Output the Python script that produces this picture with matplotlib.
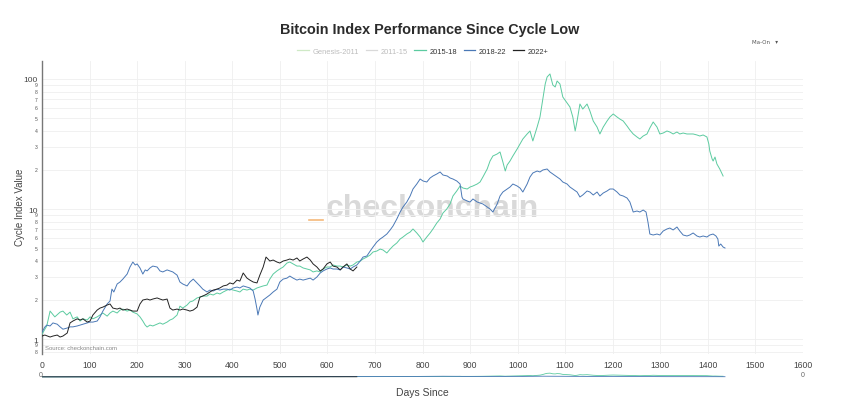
import matplotlib
matplotlib.use("Agg")
import matplotlib.pyplot as plt
from matplotlib.lines import Line2D
from matplotlib.ticker import FixedLocator, NullFormatter

plt.rcParams['font.family'] = ['Liberation Sans', 'DejaVu Sans']

# ---------------- data ----------------
series_names = ["Genesis-2011", "2011-15", "2015-18", "2018-22", "2022+"]
x_ticks = list(range(0, 1700, 100))

g_days = [0, 10, 17, 27, 38, 44, 52, 59, 65, 74, 80, 86, 95, 101, 107, 116, 122, 128, 137, 143,
          149, 158, 164, 170, 179, 185, 191, 200, 206, 212, 217, 221, 227, 233, 242, 248, 254, 263,
          269, 275, 284, 290, 296, 305, 311, 317, 326, 332, 338, 347, 353, 360, 368, 374, 381, 389,
          395, 402, 410, 416, 423, 431, 437, 444, 452, 458, 465, 473, 479, 486, 494, 500, 507, 515,
          521, 528, 536, 542, 549, 557, 564, 570, 578, 585, 591, 599, 606, 612, 620, 627, 633, 641,
          648, 654, 662, 669, 675, 683, 690, 696, 704, 711, 717, 725, 732, 738, 746, 753, 759, 767,
          774, 780, 788, 795, 801, 809, 816, 822, 830, 837, 843, 851, 858, 864, 872, 879, 885, 894,
          900, 906, 915, 921, 927, 936, 942, 948, 957, 963, 969, 974, 978, 984, 990, 999, 1005, 1011,
          1020, 1026, 1032, 1041, 1047, 1053, 1058, 1062, 1068, 1074, 1079, 1083, 1089, 1095, 1104,
          1110, 1116, 1121, 1125, 1131, 1137, 1146, 1152, 1159, 1167, 1173, 1180, 1188, 1194, 1201,
          1209, 1215, 1222, 1230, 1236, 1243, 1251, 1257, 1264, 1272, 1278, 1285, 1293, 1299, 1306,
          1314, 1320, 1327, 1335, 1341, 1348, 1356, 1362, 1369, 1377, 1383, 1390, 1398, 1402, 1404,
          1409, 1411, 1415, 1419, 1425, 1432]
g_vals = [1.09, 1.26, 1.64, 1.48, 1.61, 1.64, 1.53, 1.61, 1.43, 1.48, 1.375, 1.43, 1.40, 1.48, 1.43,
          1.48, 1.53, 1.585, 1.50, 1.585, 1.64, 1.585, 1.67, 1.70, 1.64, 1.67, 1.61, 1.56, 1.48, 1.375,
          1.28, 1.237, 1.28, 1.26, 1.30, 1.33, 1.30, 1.35, 1.40, 1.43, 1.53, 1.79, 1.73, 1.826, 1.93,
          1.96, 2.07, 2.10, 2.14, 2.14, 2.22, 2.18, 2.26, 2.22, 2.30, 2.38, 2.42, 2.38, 2.34, 2.30,
          2.42, 2.38, 2.42, 2.38, 2.47, 2.51, 2.56, 2.60, 2.89, 3.16, 3.34, 3.455, 3.58, 3.84, 3.91,
          3.78, 3.64, 3.64, 3.52, 3.455, 3.40, 3.28, 3.34, 3.28, 3.455, 3.58, 3.58, 3.71, 3.64, 3.64,
          3.58, 3.71, 3.64, 3.71, 3.91, 3.98, 4.125, 4.27, 4.43, 4.67, 4.75, 4.92, 4.84, 4.59, 4.92,
          5.19, 5.48, 5.88, 6.09, 6.42, 6.65, 7.02, 6.54, 6.09, 5.575, 6.09, 6.54, 7.02, 7.80, 8.38,
          9.31, 10.0, 10.93, 12.59, 13.76, 15.03, 14.5, 14.25, 14.76, 15.03, 15.57, 16.13, 17.63,
          20.31, 23.4, 25.57, 26.49, 27.45, 22.99, 19.6, 21.8, 23.4, 25.57, 28.94, 31.62, 34.55,
          37.76, 39.81, 33.36, 42.7, 51.0, 70.0, 91.5, 103.6, 109.3, 89.9, 86.8, 96.5, 91.5, 72.7,
          65.4, 60.9, 51.0, 39.81, 47.5, 64.2, 58.7, 64.2, 56.7, 47.5, 42.7, 37.76, 42.7, 47.5, 51.0,
          53.8, 51.0, 49.2, 47.5, 43.5, 40.5, 37.76, 35.8, 34.55, 36.43, 37.76, 42.0, 46.7, 42.7,
          37.76, 38.4, 39.81, 39.1, 37.76, 39.1, 37.76, 38.4, 37.76, 37.76, 37.76, 37.1, 36.43, 37.1,
          35.8, 31.62, 27.94, 24.2, 23.4, 25.1, 22.19, 20.31, 17.94]

b_days = [0, 6, 10, 17, 23, 32, 38, 44, 53, 59, 65, 74, 80, 86, 95, 101, 107, 116, 122, 128, 137,
          143, 147, 151, 158, 164, 170, 179, 185, 191, 196, 200, 206, 212, 217, 221, 227, 233, 242,
          248, 254, 263, 269, 275, 284, 290, 296, 305, 311, 318, 326, 332, 338, 347, 353, 360, 368,
          374, 381, 389, 395, 402, 410, 416, 423, 431, 437, 444, 448, 452, 454, 458, 465, 473, 479,
          486, 494, 500, 507, 515, 521, 528, 536, 542, 549, 557, 564, 570, 578, 585, 591, 599, 606,
          612, 620, 627, 633, 641, 648, 654, 662, 669, 675, 683, 690, 696, 704, 711, 717, 725, 732,
          738, 746, 753, 759, 767, 774, 780, 788, 795, 801, 809, 816, 822, 830, 837, 843, 852, 858,
          864, 872, 879, 883, 885, 894, 900, 906, 915, 921, 927, 936, 942, 948, 957, 963, 969, 978,
          984, 990, 999, 1005, 1011, 1020, 1026, 1032, 1041, 1047, 1053, 1062, 1068, 1074, 1083,
          1089, 1095, 1104, 1110, 1116, 1125, 1131, 1137, 1146, 1152, 1159, 1167, 1173, 1180, 1188,
          1194, 1201, 1209, 1215, 1222, 1230, 1236, 1241, 1243, 1251, 1257, 1264, 1270, 1274, 1278,
          1285, 1293, 1299, 1306, 1314, 1320, 1327, 1335, 1341, 1348, 1356, 1362, 1369, 1377, 1383,
          1390, 1398, 1404, 1411, 1417, 1421, 1423, 1427, 1432, 1436]
b_vals = [1.13, 1.237, 1.28, 1.26, 1.33, 1.30, 1.24, 1.19, 1.215, 1.24, 1.24, 1.26, 1.28, 1.30, 1.33,
          1.35, 1.35, 1.375, 1.48, 1.64, 1.86, 1.96, 2.42, 2.30, 2.65, 2.745, 2.89, 3.16, 3.58, 3.91,
          3.71, 3.78, 3.52, 3.16, 3.40, 3.34, 3.52, 3.64, 3.58, 3.34, 3.28, 3.40, 3.34, 3.28, 3.10,
          2.745, 2.65, 2.56, 2.745, 2.89, 2.70, 2.56, 2.42, 2.30, 2.38, 2.34, 2.42, 2.38, 2.42, 2.42,
          2.38, 2.47, 2.51, 2.47, 2.56, 2.51, 2.47, 2.34, 2.03, 1.70, 1.53, 1.76, 1.995, 2.10, 2.18,
          2.30, 2.42, 2.745, 2.89, 2.94, 3.05, 2.94, 2.84, 2.89, 2.84, 2.89, 2.94, 2.84, 3.0, 3.22,
          3.34, 3.455, 3.52, 3.455, 3.455, 3.40, 3.58, 3.52, 3.455, 3.58, 3.71, 3.98, 4.27, 4.35,
          4.75, 5.10, 5.575, 5.88, 6.09, 6.42, 6.90, 7.40, 8.38, 9.48, 10.36, 11.32, 12.59, 14.25,
          15.57, 17.01, 16.43, 16.13, 17.32, 17.94, 18.58, 19.26, 18.26, 17.94, 17.32, 17.01, 16.43,
          15.57, 12.37, 11.94, 11.52, 11.32, 11.94, 11.32, 11.12, 10.93, 10.36, 10.0, 9.48, 10.93,
          12.59, 13.51, 14.25, 14.76, 15.57, 15.03, 14.5, 13.51, 15.57, 17.63, 18.92, 19.6, 19.26,
          19.95, 20.31, 19.26, 18.58, 17.63, 17.01, 16.13, 15.57, 14.76, 14.25, 13.51, 12.37, 12.82,
          13.76, 13.51, 12.82, 13.51, 12.59, 13.27, 13.76, 14.25, 14.25, 13.51, 12.82, 12.59, 12.15,
          11.32, 10.0, 9.48, 9.65, 9.48, 9.82, 9.48, 7.94, 6.42, 6.31, 6.42, 6.31, 6.77, 7.02, 7.14,
          6.90, 7.27, 6.77, 6.31, 6.20, 6.31, 6.54, 6.20, 6.09, 6.20, 6.09, 6.31, 6.42, 6.20, 5.88,
          5.19, 5.38, 5.10, 5.01]

k_days = [0, 6, 17, 23, 32, 38, 44, 53, 59, 65, 74, 80, 86, 95, 101, 107, 116, 122, 128, 137, 143,
          149, 158, 164, 170, 179, 185, 191, 200, 206, 212, 221, 227, 233, 242, 248, 254, 263, 269,
          275, 284, 290, 296, 305, 311, 318, 326, 332, 338, 347, 353, 360, 368, 374, 381, 389, 395,
          402, 410, 416, 423, 431, 437, 444, 452, 458, 465, 471, 475, 479, 486, 494, 500, 507, 515,
          521, 528, 536, 542, 549, 557, 564, 570, 578, 585, 591, 599, 606, 612, 620, 627, 633, 641,
          648, 654, 662]
k_vals = [1.054, 1.073, 1.036, 1.054, 1.073, 1.036, 1.054, 1.112, 1.33, 1.375, 1.43, 1.40, 1.43,
          1.35, 1.375, 1.53, 1.67, 1.73, 1.76, 1.826, 1.86, 1.73, 1.70, 1.73, 1.67, 1.70, 1.67, 1.64,
          1.64, 1.86, 1.995, 2.03, 1.995, 2.03, 2.07, 2.03, 1.995, 2.03, 1.73, 1.67, 1.70, 1.67, 1.70,
          1.67, 1.64, 1.67, 1.76, 2.10, 2.14, 2.22, 2.30, 2.38, 2.42, 2.47, 2.56, 2.60, 2.70, 2.65,
          2.84, 2.79, 3.22, 2.94, 2.84, 2.745, 2.70, 3.10, 3.58, 4.27, 4.125, 3.98, 4.05, 3.91, 3.84,
          3.98, 4.05, 4.125, 4.05, 4.20, 3.98, 4.125, 4.27, 4.05, 3.78, 3.58, 3.34, 3.455, 3.78, 3.91,
          3.64, 3.58, 3.40, 3.58, 3.78, 3.455, 3.34, 3.58]

line_colors = {"Genesis-2011": "#cfe9c6", "2011-15": "#d9d9d9",
               "2015-18": "#5ccba0", "2018-22": "#4a78b6", "2022+": "#222222"}
visible = {"Genesis-2011": False, "2011-15": False, "2015-18": True, "2018-22": True, "2022+": True}

# ---------------- figure ----------------
W, H = 843, 410
fig = plt.figure(figsize=(W / 100, H / 100), dpi=100)
fig.patch.set_facecolor("white")

L, R, T, B = 42, 803, 62, 355
ax = fig.add_axes([L / W, 1 - B / H, (R - L) / W, (B - T) / H])
ax.set_yscale("log")
ax.set_xlim(0, 1600)
ax.set_ylim(0.767, 137.5)

for s in ["top", "right", "bottom"]:
    ax.spines[s].set_visible(False)
ax.spines["left"].set_color("#777777")
ax.spines["left"].set_linewidth(1.0)

ax.set_xticks(x_ticks)
ax.set_xticklabels([str(t) for t in x_ticks])
ax.tick_params(axis="x", length=0, labelsize=6.2, colors="#444444", pad=4)

# y ticks (major with labels, minor digits)
ax.yaxis.set_major_locator(FixedLocator([1, 10, 100]))
ax.set_yticklabels(["1", "10", "100"])
minor_vals = [m * 10 ** e for e in (-1, 0, 1) for m in range(2, 10)]
minor_vals = [v for v in minor_vals if 0.767 <= v <= 137.5]
ax.yaxis.set_minor_locator(FixedLocator(minor_vals))
ax.yaxis.set_minor_formatter(NullFormatter())
ax.tick_params(axis="y", which="both", length=0, colors="#444444", pad=3)
ax.tick_params(axis="y", which="major", labelsize=6)
for v in minor_vals:
    d = round(v / 10 ** (len(str(int(v))) - 1)) if v >= 1 else round(v * 10)
    ax.text(-0.006, v, str(d), transform=ax.get_yaxis_transform(), ha="right", va="center",
            fontsize=3.6, color="#555555")

ax.grid(True, which="both", axis="y", color="#efefef", lw=0.6)
ax.grid(True, which="major", axis="x", color="#efefef", lw=0.6)
ax.set_axisbelow(True)

# watermark
ax.text(0.513, 0.497, "checkonchain", transform=ax.transAxes, ha="center", va="center",
        fontsize=23, fontweight="bold", color="#d9d9d9", zorder=0.5)
fig.add_artist(Line2D([309 / W, 323 / W], [1 - 221 / H, 1 - 221 / H], color="#f5b97a", lw=1.2))

data = {"2015-18": (g_days, g_vals), "2018-22": (b_days, b_vals), "2022+": (k_days, k_vals)}
for name in ["2015-18", "2018-22", "2022+"]:
    d, v = data[name]
    ax.plot(d, v, color=line_colors[name], lw=0.7, zorder=3)

ax.text(0.004, 0.012, "Source: checkonchain.com", transform=ax.transAxes, fontsize=4.3,
        color="#888888", ha="left", va="bottom")

# legend
handles = [Line2D([], [], color=line_colors[n], lw=0.9) for n in series_names]
leg = fig.legend(handles, series_names, loc="center", bbox_to_anchor=(423 / W, 1 - 52 / H), ncol=5,
                 frameon=False, fontsize=5.4, handlelength=1.5, handletextpad=0.5, columnspacing=0.9)
for txt, n in zip(leg.get_texts(), series_names):
    txt.set_color("#333333" if visible[n] else "#bdbdbd")

# title and labels
fig.text(430 / W, 1 - 30 / H, "Bitcoin Index Performance Since Cycle Low", ha="center", va="center",
         fontsize=10.4, fontweight="bold", color="#2b2b2b")
fig.text(20 / W, 1 - 207 / H, "Cycle Index Value", rotation=90, ha="center", va="center",
         fontsize=7, color="#444444")
fig.text(422 / W, 1 - 393 / H, "Days Since", ha="center", va="center", fontsize=7.5, color="#444444")
fig.text(752 / W, 1 - 42 / H, "Ma-On   \u25be", ha="left", va="center", fontsize=4, color="#555555",
         family=["DejaVu Sans"])

# range slider
rs = fig.add_axes([L / W, 1 - 383 / H, (R - L) / W, 14 / H])
rs.set_xlim(0, 1600)
rs.set_ylim(-150, 260)
rs.axis("off")
for name in ["2015-18", "2018-22", "2022+"]:
    d, v = data[name]
    rs.plot(d, v, color=line_colors[name], lw=0.6)
fig.text(41 / W, 1 - 376 / H, "0", ha="center", va="center", fontsize=5, color="#666666")
fig.text(803 / W, 1 - 376 / H, "0", ha="center", va="center", fontsize=5, color="#666666")

fig.savefig("out.png", dpi=100, facecolor="white")
